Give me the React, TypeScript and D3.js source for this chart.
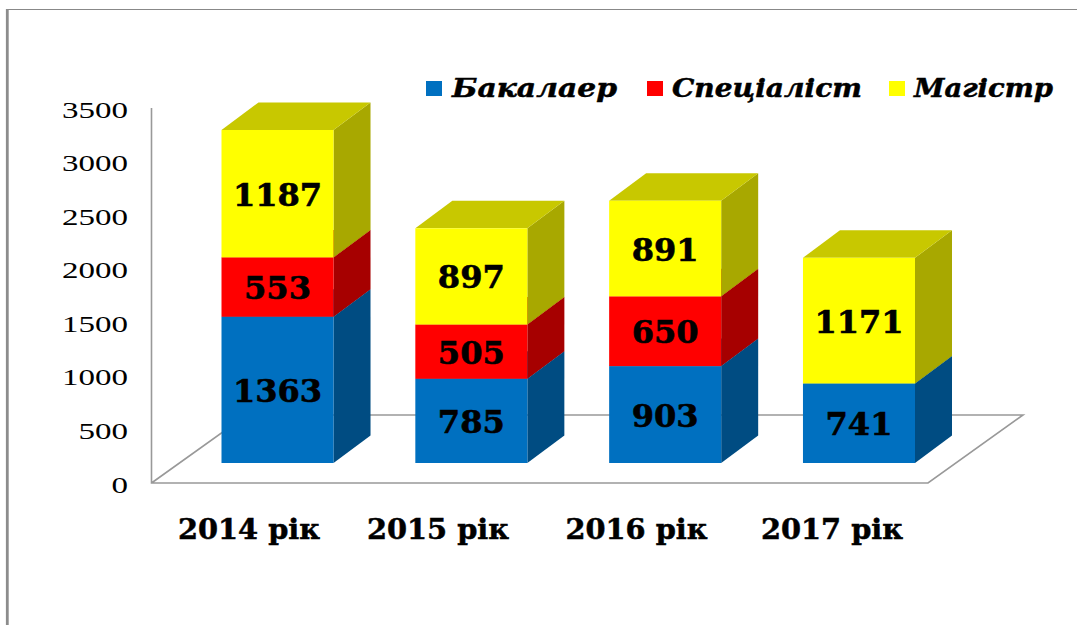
import React from "react";
import * as d3 from "d3";

const categories = ["2014 рік", "2015 рік", "2016 рік", "2017 рік"];
const bachelor = [1363, 785, 903, 741];
const specialist = [553, 505, 650, 0];
const master = [1187, 897, 891, 1171];
const seriesNames = ["Бакалаер", "Спеціаліст", "Магістр"];
const ticks = [0, 500, 1000, 1500, 2000, 2500, 3000, 3500];

const W = 1077, H = 625;
const SERIF = "'DejaVu Serif', serif";
const front = ["#0070C0", "#FF0000", "#FFFF00"];
const side = ["#004C82", "#A60000", "#A8A800"];
const top = ["#0060A0", "#C80000", "#C8C800"];
const axisCol = "#999999";

const x = d3.scaleBand<string>().domain(categories).range([221.5, 915]).paddingInner(0.422).paddingOuter(0);
const y = d3.scaleLinear().domain([0, 3500]).range([463, 87.4]);
const axisY = d3.scaleLinear().domain([0, 3500]).range([483, 108]);
const dx = 37, dy = -27.5;

const rows = categories.map((c, i) => ({ cat: c, b: bachelor[i], s: specialist[i], m: master[i] }));
const stack = d3.stack<any>().keys(["b", "s", "m"])(rows);

const catLabelX = [249, 438, 636.5, 832];
const legendPos = [
  { sw: 426, tx: 452, tw: 165 },
  { sw: 647, tx: 672, tw: 190 },
  { sw: 889, tx: 914, tw: 139 },
];

export default function App() {
  const bw = x.bandwidth();
  return (
    <svg width={W} height={H} viewBox={`0 0 ${W} ${H}`} style={{ position: "absolute", left: 0, top: 0, background: "#fff" }}>
      <path d={`M7.5,625 V9.5 H${W}`} fill="none" stroke="#888" strokeWidth={1} />
      <line x1={7.3} x2={7.3} y1={9} y2={625} stroke="#8c8c8c" strokeWidth={2.8} />

      <path d={`M151.5,${axisY(3500)} V483 H928 L1023,415 H246.5 L151.5,483`} fill="none" stroke={axisCol} strokeWidth={1.6} />

      {ticks.map((t) => {
        const s = String(t);
        return (
          <text key={t} x={128} y={axisY(t) + 9.5} textAnchor="end" fontFamily="'Liberation Serif', serif" fontSize={23}
            textLength={s.length * 16.5} lengthAdjust="spacingAndGlyphs" fill="#000">{s}</text>
        );
      })}

      {stack.map((layer, si) => (
        <g key={si}>
          {layer.map((d, i) => {
            if (d[1] === d[0]) return null;
            const x0 = x(categories[i])!;
            const x1 = x0 + bw;
            const yb = y(d[0]), yt = y(d[1]);
            return (
              <g key={i}>
                <path d={`M${x1},${yb} L${x1 + dx},${yb + dy} V${yt + dy} L${x1},${yt} Z`} fill={side[si]} />
                <path d={`M${x0},${yt} L${x0 + dx},${yt + dy} H${x1 + dx} L${x1},${yt} Z`} fill={top[si]} />
                <rect x={x0} y={yt} width={bw} height={yb - yt} fill={front[si]} />
              </g>
            );
          })}
        </g>
      ))}

      {stack.map((layer, si) =>
        layer.map((d, i) => {
          if (d[1] === d[0]) return null;
          const s = String(d[1] - d[0]);
          const cx = x(categories[i])! + bw / 2;
          return (
            <text key={`${si}-${i}`} x={cx} y={(y(d[0]) + y(d[1])) / 2 + 12} textAnchor="middle" fontFamily={SERIF}
              fontWeight={700} fontSize={32} textLength={s.length * 22.3} lengthAdjust="spacingAndGlyphs"
              fill="#000" stroke="#000" strokeWidth={0.6}>{s}</text>
          );
        })
      )}

      {categories.map((c, i) => (
        <text key={c} x={catLabelX[i]} y={539} textAnchor="middle" fontFamily={SERIF} fontWeight={700} fontSize={27}
          textLength={142} lengthAdjust="spacingAndGlyphs" fill="#000" stroke="#000" strokeWidth={0.5}>{c}</text>
      ))}

      {seriesNames.map((n, i) => (
        <g key={n}>
          <rect x={legendPos[i].sw} y={81} width={16} height={15} fill={front[i]} />
          <text x={legendPos[i].tx} y={97} fontFamily={SERIF} fontWeight={700} fontStyle="italic" fontSize={26}
            textLength={legendPos[i].tw} lengthAdjust="spacingAndGlyphs" fill="#000" stroke="#000" strokeWidth={0.5}>{n}</text>
        </g>
      ))}
    </svg>
  );
}
